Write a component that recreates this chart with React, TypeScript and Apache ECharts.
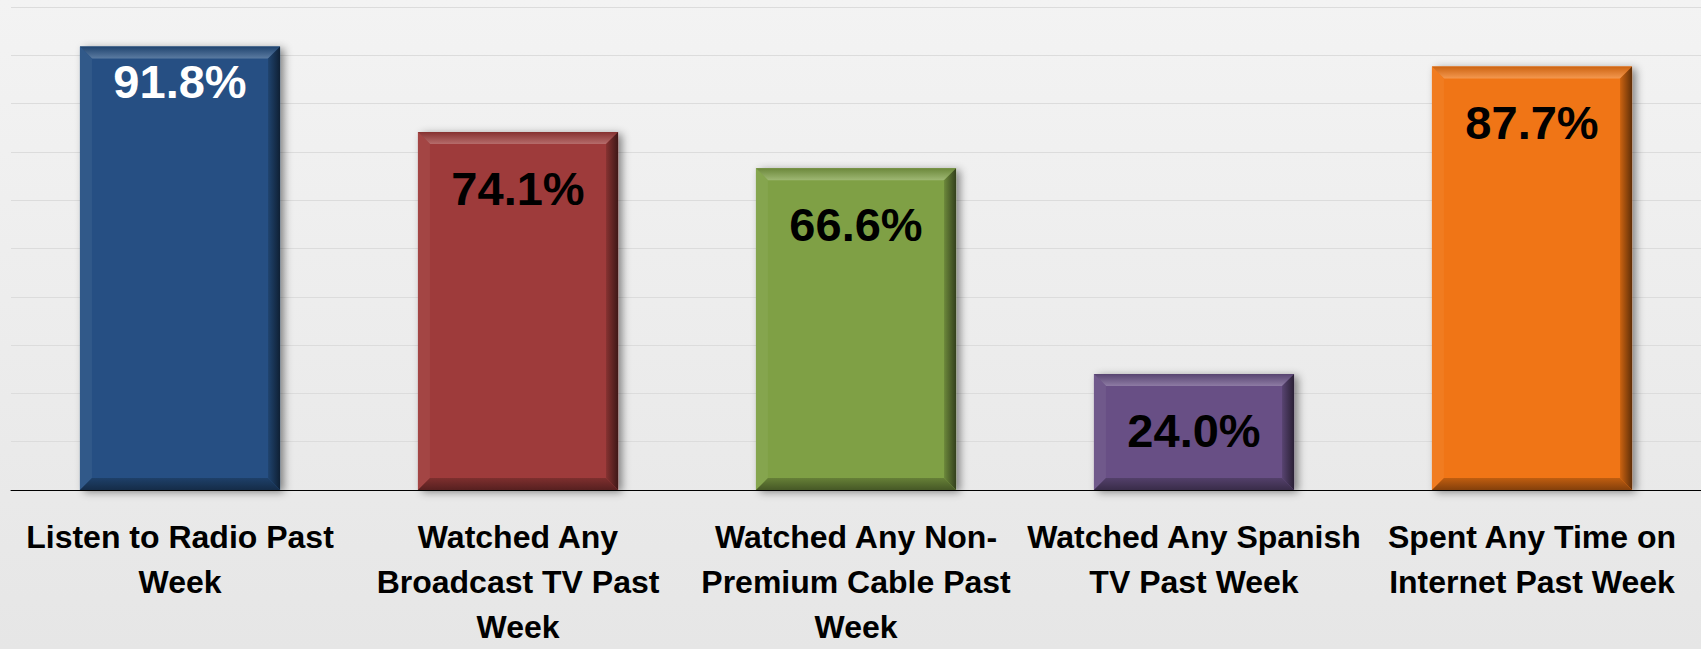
import React, { useEffect, useRef } from "react";
import * as echarts from "echarts";

const categories: string[] = [
  "Listen to Radio Past\nWeek",
  "Watched Any\nBroadcast TV Past\nWeek",
  "Watched Any Non-\nPremium Cable Past\nWeek",
  "Watched Any Spanish\nTV Past Week",
  "Spent Any Time on\nInternet Past Week",
];
const values: number[] = [91.8, 74.1, 66.6, 24.0, 87.7];
const yTicks = { min: 0, max: 100, interval: 10 };

// styles
const barColors = ["#265083", "#9e3b3a", "#7fa045", "#685085", "#f07514"];
const labelColors = ["#ffffff", "#000000", "#000000", "#000000", "#000000"];
const labelOffsets = [35, 56, 56, 56, 56];

function mix(hex: string, target: number, amt: number): string {
  const n = parseInt(hex.slice(1), 16);
  const r = (n >> 16) & 255, g = (n >> 8) & 255, b = n & 255;
  const f = (c: number) => Math.round(c + (target - c) * amt);
  return `rgb(${f(r)},${f(g)},${f(b)})`;
}

const FONT = '"Liberation Sans", Arial, sans-serif';

export default function App() {
  const ref = useRef<HTMLDivElement>(null);
  useEffect(() => {
    if (!ref.current) return;
    const chart = echarts.init(ref.current, undefined, { renderer: "svg" });
    chart.setOption({
      animation: false,
      backgroundColor: {
        type: "linear", x: 0, y: 0, x2: 0, y2: 1,
        colorStops: [
          { offset: 0, color: "#f3f3f3" },
          { offset: 1, color: "#e6e6e6" },
        ],
      },
      grid: { left: 11, right: -10, top: 7, bottom: 152, containLabel: false },
      xAxis: {
        type: "category",
        data: categories,
        axisLine: { lineStyle: { color: "#000", width: 1 } },
        axisTick: { show: false },
        axisLabel: {
          interval: 0,
          margin: 24,
          color: "#000",
          fontFamily: FONT,
          fontWeight: "bold",
          fontSize: 32,
          lineHeight: 45,
        },
      },
      yAxis: {
        type: "value",
        min: yTicks.min,
        max: yTicks.max,
        interval: yTicks.interval,
        axisLabel: { show: false },
        axisLine: { show: false },
        axisTick: { show: false },
        splitLine: { lineStyle: { color: "#dcdcdc", width: 1 } },
      },
      series: [
        {
          type: "custom",
          data: values.map((v, i) => [i, v]),
          encode: { x: 0, y: 1 },
          renderItem: (params: any, api: any) => {
            const i = params.dataIndex;
            const v = api.value(1);
            const top = api.coord([api.value(0), v]);
            const base = api.coord([api.value(0), 0]);
            const bw = api.size([1, 0])[0] * 0.592;
            const x0 = top[0] - bw / 2;
            const x1 = top[0] + bw / 2;
            const y0 = top[1];
            const y1 = base[1];
            const b = 12;
            const c = barColors[i];
            return {
              type: "group",
              children: [
                {
                  type: "rect",
                  shape: { x: x0, y: y0, width: x1 - x0, height: y1 - y0 },
                  style: {
                    fill: c,
                    shadowBlur: 8,
                    shadowOffsetX: 4,
                    shadowOffsetY: 2,
                    shadowColor: "rgba(0,0,0,0.45)",
                  },
                },
                {
                  type: "polygon",
                  shape: { points: [[x0, y0], [x1, y0], [x1 - b, y0 + b], [x0 + b, y0 + b]] },
                  style: {
                    fill: {
                      type: "linear", x: 0, y: 0, x2: 0, y2: 1,
                      colorStops: [
                        { offset: 0, color: mix(c, 0, 0.15) },
                        { offset: 1, color: mix(c, 255, 0.25) },
                      ],
                    },
                  },
                },
                {
                  type: "polygon",
                  shape: { points: [[x0, y0], [x0 + b, y0 + b], [x0 + b, y1 - b], [x0, y1]] },
                  style: { fill: mix(c, 255, 0.05) },
                },
                {
                  type: "polygon",
                  shape: { points: [[x1, y0], [x1, y1], [x1 - b, y1 - b], [x1 - b, y0 + b]] },
                  style: {
                    fill: {
                      type: "linear", x: 0, y: 0, x2: 1, y2: 0,
                      colorStops: [
                        { offset: 0, color: mix(c, 0, 0.15) },
                        { offset: 1, color: mix(c, 0, 0.6) },
                      ],
                    },
                  },
                },
                {
                  type: "polygon",
                  shape: { points: [[x0, y1], [x1, y1], [x1 - b, y1 - b], [x0 + b, y1 - b]] },
                  style: {
                    fill: {
                      type: "linear", x: 0, y: 0, x2: 0, y2: 1,
                      colorStops: [
                        { offset: 0, color: mix(c, 0, 0.2) },
                        { offset: 1, color: mix(c, 0, 0.45) },
                      ],
                    },
                  },
                },
                {
                  type: "text",
                  x: top[0],
                  y: y0 + labelOffsets[i],
                  style: {
                    text: `${v.toFixed(1)}%`,
                    fill: labelColors[i],
                    font: `bold 47px ${FONT}`,
                    align: "center",
                    verticalAlign: "middle",
                    textAlign: "center",
                    textVerticalAlign: "middle",
                  },
                },
              ],
            };
          },
        },
      ],
    });
    return () => chart.dispose();
  }, []);
  return (
    <div
      ref={ref}
      style={{ position: "fixed", left: 0, top: 0, width: 1701, height: 649 }}
    />
  );
}
